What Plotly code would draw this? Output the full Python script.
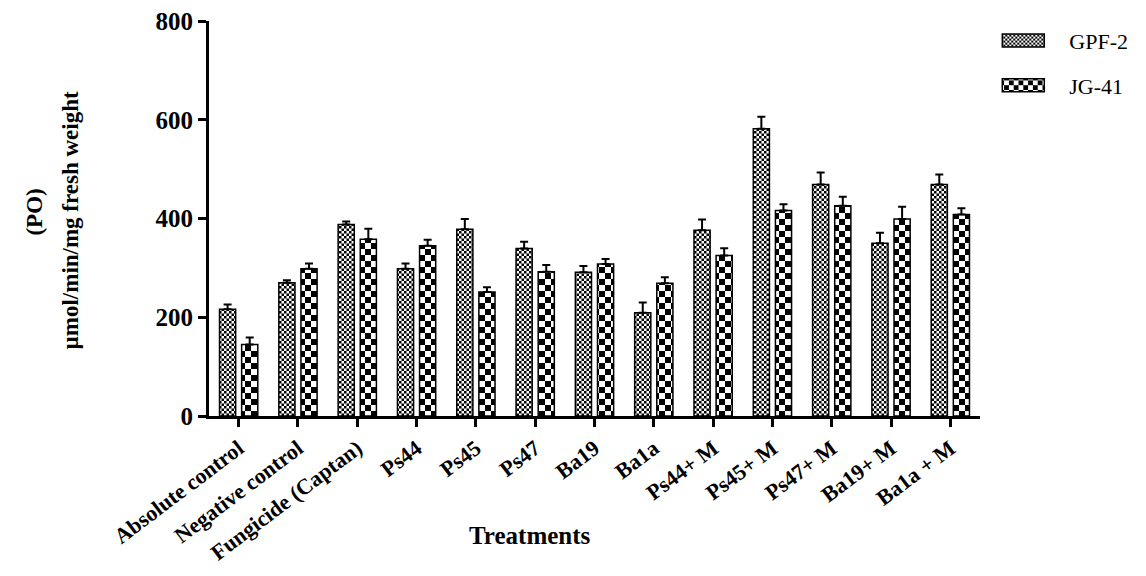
import plotly.graph_objects as go

# Treatment groups on the x axis
treatments = [
    "Absolute control", "Negative control", "Fungicide (Captan)", "Ps44", "Ps45",
    "Ps47", "Ba19", "Ba1a", "Ps44+ M", "Ps45+ M", "Ps47+ M", "Ba19+ M", "Ba1a + M",
]

# PO activity (µmol/min/mg fresh weight) and standard errors per cultivar
gpf2_values = [216, 270, 388, 298, 378, 339, 291, 209, 376, 582, 469, 350, 469]
gpf2_errors = [10, 5, 6, 11, 21, 14, 13, 21, 22, 24, 24, 21, 20]
jg41_values = [145, 298, 358, 345, 251, 292, 308, 269, 325, 416, 426, 399, 408]
jg41_errors = [14, 11, 21, 12, 10, 14, 10, 12, 15, 13, 18, 25, 13]

y_ticks = [0, 200, 400, 600, 800]

SERIF = "Liberation Serif, Times New Roman, serif"

fig = go.Figure()
fig.add_trace(go.Bar(
    name="GPF-2", x=treatments, y=gpf2_values, legendgroup="gpf2",
    error_y=dict(type="data", array=gpf2_errors, arrayminus=[0] * len(gpf2_errors),
                 symmetric=False, color="black", thickness=2, width=4),
    marker=dict(color="white", line=dict(color="black", width=1.5),
                pattern=dict(shape=".", size=4, solidity=0.5, fgcolor="black", bgcolor="white")),
))
fig.add_trace(go.Bar(
    name="JG-41", x=treatments, y=jg41_values, legendgroup="jg41",
    error_y=dict(type="data", array=jg41_errors, arrayminus=[0] * len(jg41_errors),
                 symmetric=False, color="black", thickness=2, width=4),
    marker=dict(color="white", line=dict(color="black", width=1.5),
                pattern=dict(shape=".", size=10, solidity=0.5, fgcolor="black", bgcolor="white")),
))

plot_left, plot_right, plot_bottom, plot_top = 209, 980, 416, 21

fig.update_layout(
    width=1146, height=576,
    margin=dict(l=plot_left, r=1146 - plot_right, t=plot_top, b=576 - plot_bottom,
                autoexpand=False),
    paper_bgcolor="white", plot_bgcolor="white",
    barmode="group", bargap=0.254, bargroupgap=0.27,
    font=dict(family=SERIF, color="black"),
    showlegend=True,
    legend=dict(x=0.9965, y=1.003, xanchor="left", yanchor="top",
                font=dict(family=SERIF, size=22, color="black"),
                tracegroupgap=13, itemwidth=82, bgcolor="rgba(0,0,0,0)"),
    xaxis=dict(
        range=[-0.5, 12.5], showline=True, linecolor="black", linewidth=3,
        ticks="outside", ticklen=8, tickwidth=3, tickcolor="black",
        tickangle=-37, showgrid=False, zeroline=False, automargin=False,
        tickfont=dict(family=SERIF, size=22, color="black", weight="bold"),
    ),
    yaxis=dict(
        range=[0, 800], tickvals=y_ticks, showline=True, linecolor="black", linewidth=3,
        ticks="outside", ticklen=8, tickwidth=3, tickcolor="black",
        showgrid=False, zeroline=False, automargin=False,
        tickfont=dict(family=SERIF, size=25, color="black", weight="bold"),
    ),
    annotations=[
        dict(text="<b>(PO)</b>", textangle=-90, xref="paper", yref="paper",
             x=(35 - plot_left) / (plot_right - plot_left), y=0.515,
             xanchor="center", yanchor="middle", showarrow=False,
             font=dict(family=SERIF, size=23, color="black")),
        dict(text="<b>µmol/min/mg fresh weight</b>", textangle=-90, xref="paper", yref="paper",
             x=(70 - plot_left) / (plot_right - plot_left), y=0.495,
             xanchor="center", yanchor="middle", showarrow=False,
             font=dict(family=SERIF, size=23, color="black")),
        dict(text="<b>Treatments</b>", xref="paper", yref="paper",
             x=(530 - plot_left) / (plot_right - plot_left), y=-0.303,
             xanchor="center", yanchor="middle",
             showarrow=False, font=dict(family=SERIF, size=25, color="black")),
    ],
)

# Replace the dot fills with square checkerboards (fine for GPF-2, coarse for JG-41)
# and widen the legend swatches into flat rectangles.
checker_js = """
var gd = document.getElementById('{plot_id}');
var NS = 'http://www.w3.org/2000/svg';
var cells = [2.5, 6];
function checker(pat, c) {
    if (!pat || pat.getAttribute('data-checker')) return;
    while (pat.firstChild) pat.removeChild(pat.firstChild);
    pat.setAttribute('width', 2 * c);
    pat.setAttribute('height', 2 * c);
    pat.setAttribute('patternUnits', 'userSpaceOnUse');
    pat.setAttribute('data-checker', '1');
    var bg = document.createElementNS(NS, 'rect');
    bg.setAttribute('x', 0); bg.setAttribute('y', 0);
    bg.setAttribute('width', 2 * c); bg.setAttribute('height', 2 * c);
    bg.setAttribute('fill', 'white');
    pat.appendChild(bg);
    [[0, 0], [c, c]].forEach(function (o) {
        var r = document.createElementNS(NS, 'rect');
        r.setAttribute('x', o[0]); r.setAttribute('y', o[1]);
        r.setAttribute('width', c); r.setAttribute('height', c);
        r.setAttribute('fill', 'black');
        pat.appendChild(r);
    });
}
function patternOf(el) {
    var f = el.style.fill || el.getAttribute('fill') || '';
    var m = /url\\(["']?#([^"')]+)["']?\\)/.exec(f);
    return m ? document.getElementById(m[1]) : null;
}
gd.querySelectorAll('.barlayer .trace').forEach(function (tr, i) {
    tr.querySelectorAll('path').forEach(function (p) { checker(patternOf(p), cells[i]); });
});
gd.querySelectorAll('.legend .traces').forEach(function (tr, i) {
    tr.querySelectorAll('.legendpoints path').forEach(function (p) {
        p.setAttribute('d', 'M21,6.5H-21V-6.5H21Z');
        checker(patternOf(p), cells[i]);
    });
});
"""

fig.write_html("out.html", post_script=checker_js)
